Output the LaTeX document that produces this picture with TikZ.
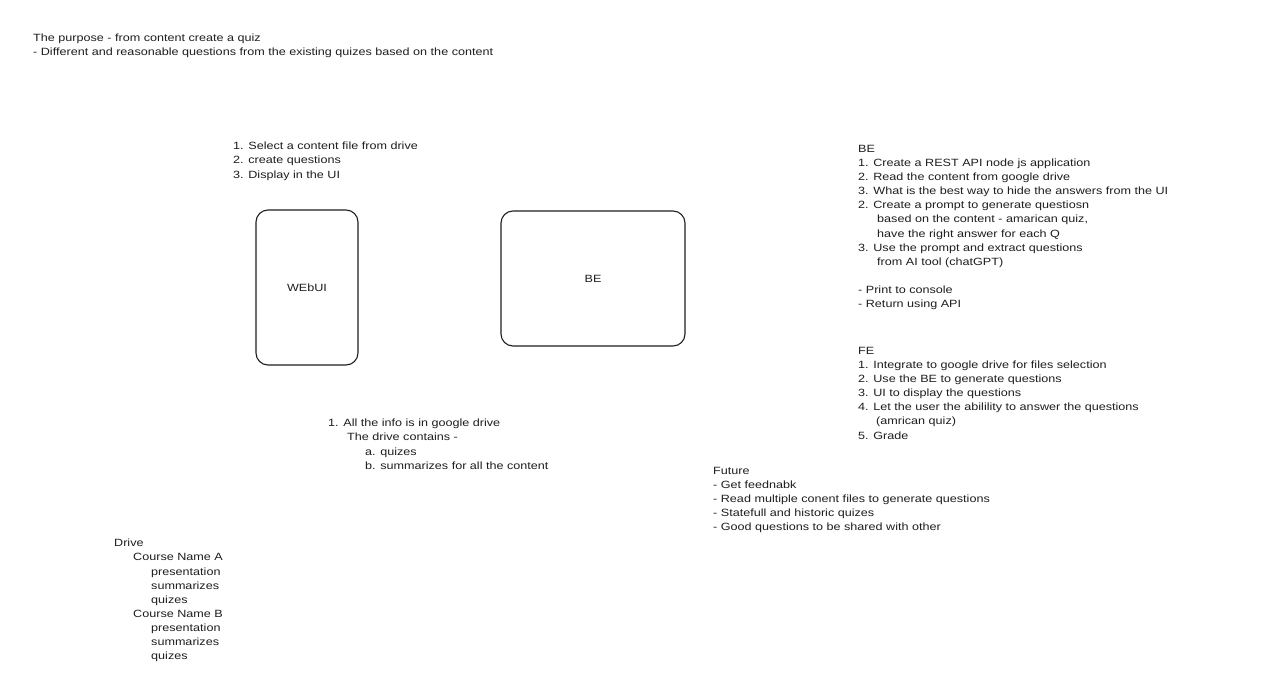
\documentclass[tikz,border=0pt]{standalone}
\usepackage{fontspec}
\setmainfont[FakeStretch=1.2]{Liberation Sans}
\begin{document}
\begin{tikzpicture}[x=1pt,y=-1pt,
  ink/.style={color=black!88},
  note/.style={ink,anchor=north west,inner sep=0pt,align=left,
    font=\fontsize{10.5}{14.1}\selectfont},
  card/.style={ink,draw,line width=1.1pt,rounded corners=12pt,
    font=\fontsize{10.5}{14.1}\selectfont}]
\useasboundingbox[fill=white] (0,0) rectangle (1280,688);
\newcommand\ind[1]{\hspace*{#1pt}}

% heading
\node[note] (purpose) at (33,34) {The purpose - from content create a quiz\\
- Different and reasonable questions from the existing quizes based on the content};

% flow steps above the web card
\node[note] (steps) at (233,142) {1. Select a content file from drive\\
2. create questions\\
3. Display in the UI};

% the two components
\node[card,minimum width=102pt,minimum height=155pt] (webui) at (307,287.5) {WEbUI};
\node[card,minimum width=184pt,minimum height=135pt] (be) at (593,278.5) {BE};

% back-end notes
\node[note] (benotes) at (858,145) {BE\\
1. Create a REST API node js application\\
2. Read the content from google drive\\
3. What is the best way to hide the answers from the UI\\
2. Create a prompt to generate questiosn\\
\ind{19}based on the content - amarican quiz,\\
\ind{19}have the right answer for each Q\\
3. Use the prompt and extract questions\\
\ind{19}from AI tool (chatGPT)\\
\mbox{}\\
- Print to console\\
- Return using API};

% front-end notes
\node[note] (fenotes) at (858,347) {FE\\
1. Integrate to google drive for files selection\\
2. Use the BE to generate questions\\
3. UI to display the questions\\
4. Let the user the abilility to answer the questions\\
\ind{18}(amrican quiz)\\
5. Grade};

% where the content lives
\node[note] (info) at (328,419) {1. All the info is in google drive\\
\ind{19}The drive contains -\\
\ind{37}a. quizes\\
\ind{37}b. summarizes for all the content};

% future work
\node[note] (future) at (713,467) {Future\\
- Get feednabk\\
- Read multiple conent files to generate questions\\
- Statefull and historic quizes\\
- Good questions to be shared with other};

% drive layout
\node[note] (drive) at (114,539) {Drive\\
\ind{19}Course Name A\\
\ind{37}presentation\\
\ind{37}summarizes\\
\ind{37}quizes\\
\ind{19}Course Name B\\
\ind{37}presentation\\
\ind{37}summarizes\\
\ind{37}quizes};
\end{tikzpicture}
\end{document}
